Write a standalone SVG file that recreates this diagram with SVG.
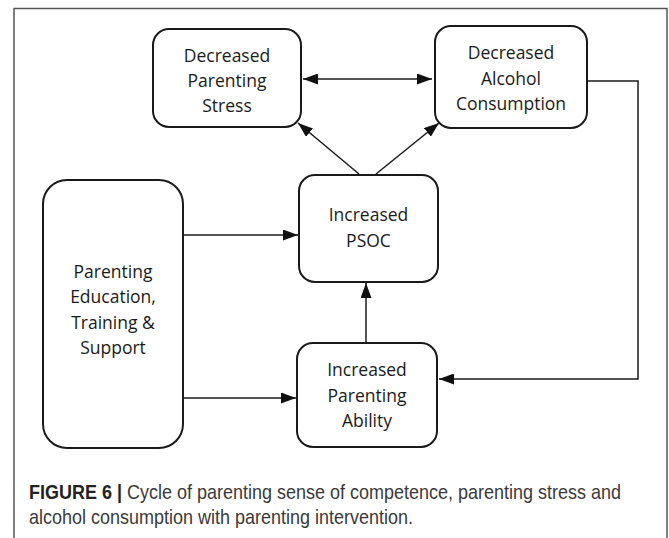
<svg xmlns="http://www.w3.org/2000/svg" width="669" height="538" viewBox="0 0 669 538">
<defs>
<marker id="ah" viewBox="0 0 15 11" refX="15" refY="5.5" markerWidth="15" markerHeight="11" markerUnits="userSpaceOnUse" orient="auto-start-reverse">
<path d="M0,0 L15,5.5 L0,11 Z" fill="#111"/>
</marker>
</defs>
<style>
.box{fill:#fff;stroke:#1a1a1a;stroke-width:2}
.lbl{font-family:"Open Sans","Noto Sans",sans-serif;font-size:17.5px;fill:#1a1a1a;text-anchor:middle}
.con{fill:none;stroke:#1a1a1a;stroke-width:1.5}
.cap{font-family:"Liberation Sans",Arial,sans-serif;font-size:21px;fill:#3a3a3a}
</style>
<rect x="0" y="0" width="669" height="538" fill="#fff"/>
<path d="M14,545 V8.5 H667 V545" fill="none" stroke="#555" stroke-width="1.5"/>
<g id="stress">
<rect class="box" x="153" y="29" width="148" height="98" rx="16"/>
<text class="lbl" x="227" y="62">Decreased</text>
<text class="lbl" x="227" y="87">Parenting</text>
<text class="lbl" x="227" y="112">Stress</text>
</g>
<g id="alcohol">
<rect class="box" x="435" y="26" width="152" height="102" rx="16"/>
<text class="lbl" x="511" y="59">Decreased</text>
<text class="lbl" x="511" y="85">Alcohol</text>
<text class="lbl" x="511" y="110">Consumption</text>
</g>
<g id="psoc">
<rect class="box" x="299" y="175" width="139" height="107" rx="16"/>
<text class="lbl" x="368.5" y="221">Increased</text>
<text class="lbl" x="368.5" y="247">PSOC</text>
</g>
<g id="education">
<rect class="box" x="43" y="180" width="140" height="268" rx="24"/>
<text class="lbl" x="113" y="278">Parenting</text>
<text class="lbl" x="113" y="303">Education,</text>
<text class="lbl" x="113" y="329">Training &amp;</text>
<text class="lbl" x="113" y="354">Support</text>
</g>
<g id="ability">
<rect class="box" x="297" y="343" width="140" height="104" rx="16"/>
<text class="lbl" x="367" y="376">Increased</text>
<text class="lbl" x="367" y="402">Parenting</text>
<text class="lbl" x="367" y="427">Ability</text>
</g>
<g id="connectors">
<line class="con" x1="303" y1="79" x2="432" y2="79" marker-start="url(#ah)" marker-end="url(#ah)"/>
<line class="con" x1="359" y1="174" x2="298" y2="123" marker-end="url(#ah)"/>
<line class="con" x1="376" y1="174" x2="439" y2="123" marker-end="url(#ah)"/>
<line class="con" x1="184" y1="235" x2="298" y2="235" marker-end="url(#ah)"/>
<line class="con" x1="184" y1="398" x2="296" y2="398" marker-end="url(#ah)"/>
<line class="con" x1="366" y1="342" x2="366" y2="283" marker-end="url(#ah)"/>
<path class="con" d="M588,81 H638 V379 H439" marker-end="url(#ah)"/>
</g>
<g id="caption" transform="translate(29,0) scale(0.857,1)">
<text class="cap" x="0" y="499"><tspan font-weight="bold" fill="#222">FIGURE 6 |</tspan> Cycle of parenting sense of competence, parenting stress and</text>
<text class="cap" x="0" y="524">alcohol consumption with parenting intervention.</text>
</g>
</svg>
